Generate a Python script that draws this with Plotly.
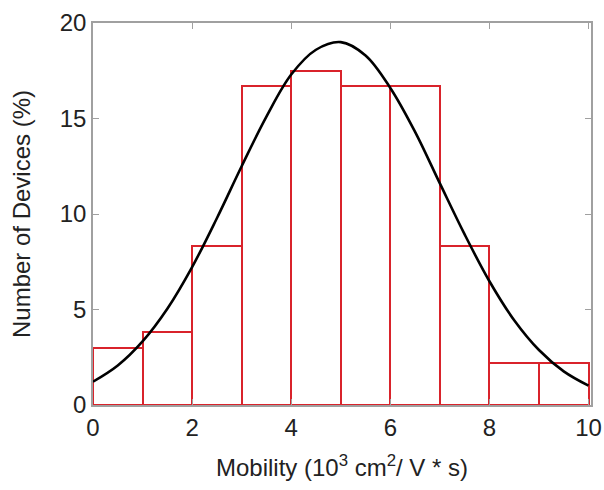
import plotly.graph_objects as go

# Histogram bins (Mobility, 10^3 cm^2/V*s) and percentages
bin_centers = [0.5, 1.5, 2.5, 3.5, 4.5, 5.5, 6.5, 7.5, 8.5, 9.5]
bin_percent = [3.0, 3.8, 8.3, 16.7, 17.5, 16.7, 16.7, 8.3, 2.2, 2.2]

# Fitted distribution curve
fit_x = [0, 0.5, 1, 1.5, 2, 2.5, 3, 3.5, 4, 4.5, 5, 5.5, 6, 6.5, 7, 7.5, 8, 8.5, 9, 9.5, 10]
fit_y = [1.22, 2.07, 3.33, 5.04, 7.22, 9.78, 12.5, 15.1, 17.3, 18.6, 19.0, 18.3, 16.6,
         14.3, 11.6, 8.93, 6.48, 4.44, 2.88, 1.76, 1.01]

x_ticks = [0, 2, 4, 6, 8, 10]
y_ticks = [0, 5, 10, 15, 20]

fig = go.Figure()
fig.add_trace(go.Bar(
    x=bin_centers, y=bin_percent, width=1,
    marker=dict(color="rgba(255,255,255,0)", line=dict(color="#d9232b", width=2)),
    showlegend=False,
))
fig.add_trace(go.Scatter(
    x=fit_x, y=fit_y, mode="lines", line=dict(color="black", width=2.6, shape="spline"),
    showlegend=False,
))

font = dict(family="Liberation Sans, Arial, sans-serif", size=24, color="#222")
axis_common = dict(
    showline=True, linecolor="#a0a0a0", linewidth=1.5, mirror="ticks",
    ticks="inside", ticklen=6, tickcolor="#a0a0a0", showgrid=False, zeroline=False,
    tickfont=font, automargin=False,
)
fig.update_layout(
    width=604, height=490,
    margin=dict(l=93, r=13, t=23, b=85),
    plot_bgcolor="white", paper_bgcolor="white",
    bargap=0,
    xaxis=dict(range=[0, 10.05], tickvals=x_ticks,
               title=dict(text="Mobility (10<sup>3</sup> cm<sup>2</sup>/ V * s)", font=font, standoff=20),
               **axis_common),
    yaxis=dict(range=[0, 20], tickvals=y_ticks,
               title=dict(text="Number of Devices (%)", font=font, standoff=22),
               **axis_common),
)
fig.write_html("out.html")
